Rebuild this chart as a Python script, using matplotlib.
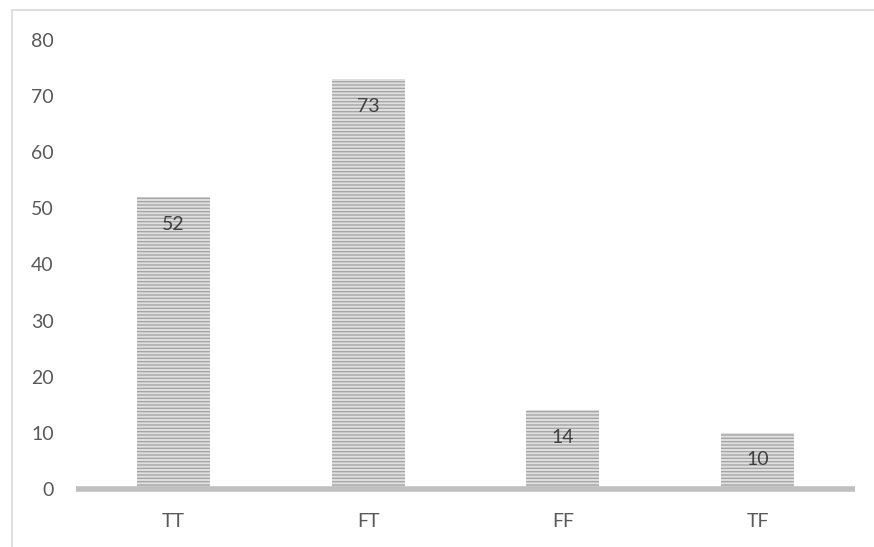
import matplotlib.pyplot as plt
from matplotlib.patches import Rectangle

plt.rcParams['font.family'] = ['Lato', 'DejaVu Sans']
plt.rcParams['hatch.linewidth'] = 1.0
plt.rcParams['hatch.color'] = '#a6a6a6'

categories = ['TT', 'FT', 'FF', 'TF']
values = [52, 73, 14, 10]

fig = plt.figure(figsize=(8.74, 5.47), dpi=100)
ax = fig.add_axes([76 / 874, 1 - 489 / 547, (855 - 76) / 874, (489 - 40) / 547])

# rahmen um das diagramm
fig.patches.append(Rectangle((12 / 874, -0.1), 1.0, 1 - 10 / 547 + 0.1, transform=fig.transFigure,
                             fill=False, edgecolor='#d9d9d9', linewidth=1.2))

x = range(len(categories))
bars = ax.bar(x, values, width=0.375, color='#e0e0e0', hatch='-----', edgecolor='#a6a6a6', linewidth=0)

for b, v in zip(bars, values):
    ax.annotate(str(v), (b.get_x() + b.get_width() / 2, v), xytext=(0, -27), textcoords='offset pixels',
                ha='center', va='center', fontsize=14, color='#404040')

ax.set_xlim(-0.5, 3.5)
ax.set_ylim(0, 80)
ax.set_yticks(range(0, 81, 10))
ax.set_xticks(list(x))
ax.set_xticklabels(categories)
for s in ['top', 'right', 'left']:
    ax.spines[s].set_visible(False)
ax.spines['bottom'].set_color('#bfbfbf')
ax.spines['bottom'].set_linewidth(4)
ax.spines['bottom'].set_zorder(3)
ax.spines['bottom'].set_capstyle('butt')
ax.tick_params(length=0, labelsize=14, labelcolor='#595959')
ax.tick_params(axis='y', pad=16)
ax.tick_params(axis='x', pad=17)

fig.savefig('out.png', dpi=100)
